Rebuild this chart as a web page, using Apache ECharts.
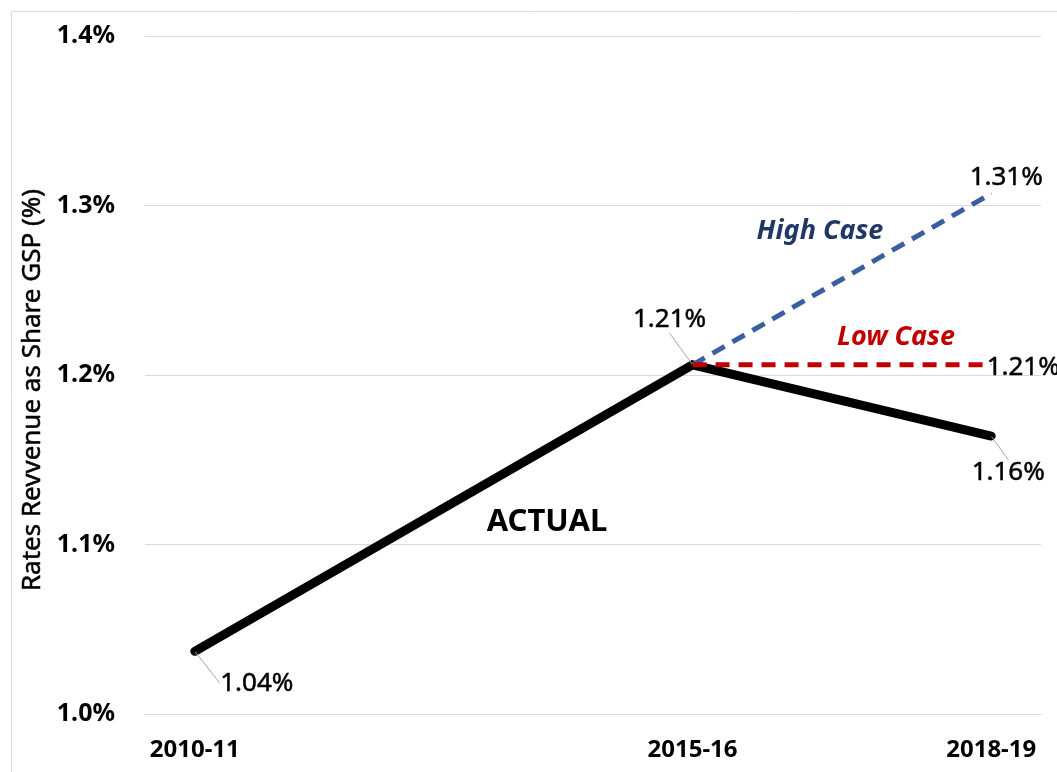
<!DOCTYPE html>
<html>
<head>
<meta charset="utf-8">
<script src="https://cdn.jsdelivr.net/npm/echarts@6/dist/echarts.min.js"></script>
<style>
  html, body { margin: 0; padding: 0; background: #fff; }
  #chart { width: 1057px; height: 772px; }
</style>
</head>
<body>
<div id="chart"></div>
<script>
// Financial years on the x axis (one slot per year so spacing is to scale)
const years = ['2010-11', '2011-12', '2012-13', '2013-14', '2014-15', '2015-16', '2016-17', '2017-18', '2018-19'];
const shownYears = ['2010-11', '2015-16', '2018-19'];

// Rates revenue as a share of GSP (%)
const actual   = [1.037, null, null, null, null, 1.206, null, null, 1.164];
const highCase = [null, null, null, null, null, 1.206, null, null, 1.307];
const lowCase  = [null, null, null, null, null, 1.206, null, null, 1.206];

const yTicks = [1.0, 1.1, 1.2, 1.3, 1.4];

const FONT = '"Noto Sans", "Open Sans", sans-serif';

// Where each data label sits relative to its point, by series and year index
const labelShift = {
  actual: { 0: [62, 32], 5: [-23, -45], 8: [17, 37] },
  high:   { 8: [15, -16] },
  low:    { 8: [32, 3] }
};

function pct(v) { return v.toFixed(2) + '%'; }

function makeLayout(key) {
  return function (p) {
    const s = labelShift[key][p.dataIndex];
    return s ? { dx: s[0], dy: s[1] } : {};
  };
}

function makeLabel(lastOnly) {
  return {
    show: true,
    position: 'inside',
    fontFamily: FONT,
    fontSize: 26,
    color: '#000',
    textBorderColor: '#000',
    textBorderWidth: 0.5,
    formatter: function (p) {
      if (p.value == null) return '';
      if (lastOnly && p.dataIndex !== years.length - 1) return '';
      return pct(p.value);
    }
  };
}

const chart = echarts.init(document.getElementById('chart'), null, { renderer: 'canvas' });

chart.setOption({
  animation: false,
  backgroundColor: '#fff',
  grid: { left: 145, right: 16, top: 36, bottom: 58, containLabel: false },
  xAxis: {
    type: 'category',
    data: years,
    boundaryGap: true,
    axisLine: { show: true, lineStyle: { color: '#d9d9d9', width: 1 } },
    axisTick: { show: false },
    axisLabel: {
      interval: 0,
      margin: 24,
      fontFamily: FONT,
      fontWeight: 'bold',
      fontSize: 24,
      color: '#000',
      formatter: v => (shownYears.indexOf(v) >= 0 ? v : '')
    }
  },
  yAxis: {
    type: 'value',
    min: yTicks[0],
    max: yTicks[yTicks.length - 1],
    interval: 0.1,
    name: 'Rates Revvenue as Share GSP (%)',
    nameLocation: 'middle',
    nameGap: 97,
    nameTextStyle: {
      fontFamily: FONT, fontSize: 26, color: '#000',
      textBorderColor: '#000', textBorderWidth: 0.5,
      padding: [0, 30, 0, 0]
    },
    axisLine: { show: false },
    axisTick: { show: false },
    splitLine: { lineStyle: { color: '#d9d9d9', width: 1 } },
    axisLabel: {
      margin: 30,
      fontFamily: FONT,
      fontWeight: 'bold',
      fontSize: 25,
      color: '#000',
      formatter: v => v.toFixed(1) + '%'
    }
  },
  series: [
    {
      name: 'High Case',
      type: 'line',
      data: highCase,
      connectNulls: true,
      symbol: 'circle',
      symbolSize: 1,
      itemStyle: { color: '#3a5fa0' },
      lineStyle: { color: '#3a5fa0', width: 5, type: [14, 9], cap: 'butt' },
      label: makeLabel(true),
      labelLayout: makeLayout('high'),
      z: 3
    },
    {
      name: 'Low Case',
      type: 'line',
      data: lowCase,
      connectNulls: true,
      symbol: 'circle',
      symbolSize: 1,
      itemStyle: { color: '#c00000' },
      lineStyle: { color: '#c00000', width: 5, type: [14, 9], cap: 'butt' },
      label: makeLabel(true),
      labelLayout: makeLayout('low'),
      z: 3
    },
    {
      name: 'Actual',
      type: 'line',
      data: actual,
      connectNulls: true,
      symbol: 'circle',
      symbolSize: 1,
      itemStyle: { color: '#000' },
      lineStyle: { color: '#000', width: 9, cap: 'round', join: 'miter' },
      label: makeLabel(false),
      labelLine: { show: true, lineStyle: { color: '#a6a6a6', width: 1 } },
      labelLayout: makeLayout('actual'),
      z: 2
    }
  ],
  graphic: [
    {
      type: 'rect',
      shape: { x: 11.5, y: 11.5, width: 1100, height: 800 },
      style: { fill: 'none', stroke: '#d9d9d9', lineWidth: 1 },
      silent: true
    },
    {
      type: 'text',
      x: 547, y: 522,
      style: { text: 'ACTUAL', font: 'bold 31px ' + FONT, fill: '#000', align: 'center', verticalAlign: 'middle' }
    },
    {
      type: 'text',
      x: 820, y: 231,
      style: { text: 'High Case', font: 'italic bold 27px ' + FONT, fill: '#203864', align: 'center', verticalAlign: 'middle' }
    },
    {
      type: 'text',
      x: 896, y: 337,
      style: { text: 'Low Case', font: 'italic bold 27px ' + FONT, fill: '#c00000', align: 'center', verticalAlign: 'middle' }
    }
  ]
});
</script>
</body>
</html>
